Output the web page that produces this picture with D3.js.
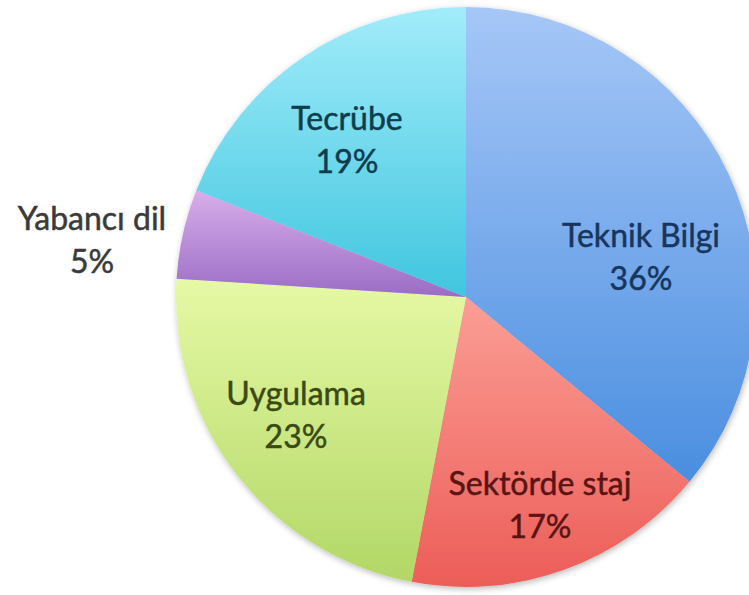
<!DOCTYPE html>
<html>
<head>
<meta charset="utf-8">
<script src="https://cdn.jsdelivr.net/npm/d3@7"></script>
<style>
  html, body { margin: 0; padding: 0; background: #ffffff; }
  svg { display: block; }
</style>
</head>
<body>
<svg id="chart" width="749" height="595"></svg>
<script>
// ---- data ----
const categories = ["Teknik Bilgi", "Sektörde staj", "Uygulama", "Yabancı dil", "Tecrübe"];
const values = [36, 17, 23, 5, 19];
const percentLabels = ["36%", "17%", "23%", "5%", "19%"];

// ---- styles / layout (not data) ----
const gradTop    = ["#a6c7f7", "#fb9e95", "#e6f9a5", "#d8aeea", "#a2ecfa"];
const gradBottom = ["#4a8ee0", "#ec5d58", "#b2d766", "#9a6cc6", "#40c6df"];
const labelColors = ["#17365d", "#5a1414", "#3b4a12", "#3a3a3a", "#0f3d4c"];
// label anchor offsets (centre x, first baseline) relative to pie centre
const labelOffsets = [[175, -50], [74, 198], [-170, 108], [-374, -67], [-119, -167]];

const width = 749, height = 595;
const cx = 466, cy = 297, radius = 290;
const lineGap = 43;

const svg = d3.select("#chart");
const defs = svg.append("defs");

const shadow = defs.append("filter").attr("id", "shadow")
  .attr("x", "-10%").attr("y", "-10%").attr("width", "120%").attr("height", "120%");
shadow.append("feDropShadow")
  .attr("dx", 1).attr("dy", 2).attr("stdDeviation", 3)
  .attr("flood-color", "#000").attr("flood-opacity", 0.28);

categories.forEach((c, i) => {
  const g = defs.append("linearGradient").attr("id", "grad" + i)
    .attr("x1", 0).attr("y1", 0).attr("x2", 0).attr("y2", 1);
  g.append("stop").attr("offset", "0%").attr("stop-color", gradTop[i]);
  g.append("stop").attr("offset", "100%").attr("stop-color", gradBottom[i]);
});

const data = categories.map((c, i) => ({ name: c, value: values[i], label: percentLabels[i], i }));

const pie = d3.pie().value(d => d.value).sort(null);
const arc = d3.arc().innerRadius(0).outerRadius(radius);

const g = svg.append("g").attr("transform", `translate(${cx},${cy})`);

g.append("g").attr("filter", "url(#shadow)")
  .selectAll("path")
  .data(pie(data))
  .join("path")
  .attr("d", arc)
  .attr("fill", d => `url(#grad${d.data.i})`);

const labels = g.append("g")
  .selectAll("text")
  .data(data)
  .join("text")
  .attr("text-anchor", "middle")
  .attr("font-family", "Lato, 'Open Sans', sans-serif")
  .attr("font-size", 32)
  .attr("fill", d => labelColors[d.i])
  .attr("stroke", d => labelColors[d.i])
  .attr("stroke-width", 0.5)
  .attr("transform", d => `translate(${labelOffsets[d.i][0]},${labelOffsets[d.i][1]})`);

labels.append("tspan").attr("x", 0).attr("y", 0).text(d => d.name);
labels.append("tspan").attr("x", 0).attr("y", lineGap).text(d => d.label);
</script>
</body>
</html>
